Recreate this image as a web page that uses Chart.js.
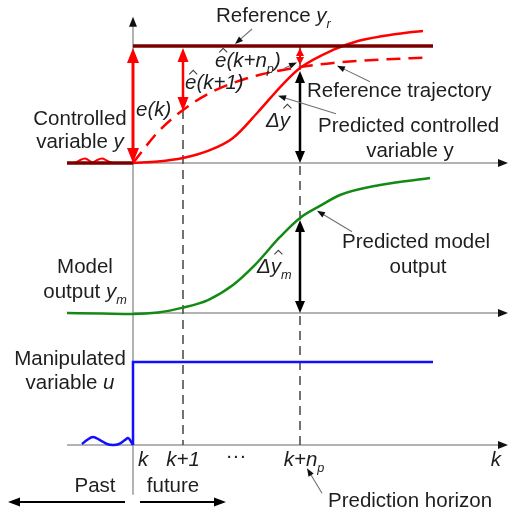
<!DOCTYPE html>
<html><head><meta charset="utf-8">
<script src="https://cdn.jsdelivr.net/npm/chart.js@4.4.0/dist/chart.umd.min.js"></script>
<style>html,body{margin:0;padding:0;background:#fff}canvas{display:block}</style>
</head><body>
<canvas id="c" width="510" height="515"></canvas>
<script>
// ---- time axis (sampling steps, k = 0) ----
const stepT = [0, 1, 3.34];            // k, k+1, k+n_p
const tickLabels = ['k', 'k+1', '···', 'k+n_p', 'k'];
// ---- controlled variable panel (reference = 1) ----
const refT = [0, 6];
const refY = [1, 1];
const pastRefT = [-1.32, 0];
const pastRefY = [0, 0];
const pastYT = [-1.16, -1.06, -0.96, -0.8, -0.72, -0.62, -0.52, -0.42];
const pastYV = [0, 0.025, 0.038, 0.005, 0.025, 0.038, 0.02, 0];
const predT = [0, 0.5, 1, 1.5, 2, 2.5, 3, 3.34, 4, 4.5, 5, 5.5, 5.8];
const predY = [0, 0.013, 0.043, 0.103, 0.214, 0.436, 0.675, 0.812, 0.966, 1.043, 1.085, 1.115, 1.128];
const trajT = [0, 0.5, 1, 1.5, 2, 2.5, 3, 3.34, 4, 5, 5.85];
const trajY = [0, 0.265, 0.453, 0.59, 0.684, 0.75, 0.795, 0.82, 0.855, 0.885, 0.9];
// ---- model output panel ----
const modelT = [-1.32, -0.6, 0, 0.5, 1, 1.5, 2, 2.44, 2.94, 3.34, 3.74, 4.14, 4.94, 5.94];
const modelY = [0, -0.004, -0.007, 0.004, 0.04, 0.096, 0.207, 0.356, 0.563, 0.704, 0.793, 0.874, 0.948, 1.0];
// ---- manipulated variable panel ----
const uPastT = [-1.02, -0.92, -0.8, -0.66, -0.52, -0.4, -0.28, -0.16, -0.1, -0.06, 0];
const uPastY = [0.012, 0.06, 0.096, 0.06, 0.012, 0, 0.012, 0.06, 0.084, 0.06, 0];
const uT = [0, 0, 6];
const uY = [0, 1, 1];

const pts = (T, Y) => T.map((t, i) => ({x: t, y: Y[i]}));
function interp(T, Y, t) {
  for (let i = 0; i < T.length - 1; i++) {
    if (t >= T[i] && t <= T[i + 1]) return Y[i] + (Y[i + 1] - Y[i]) * (t - T[i]) / (T[i + 1] - T[i]);
  }
  return t < T[0] ? Y[0] : Y[Y.length - 1];
}
const DARK = '#7a0000', RED = '#ff0000', GREEN = '#138a13', BLUE = '#1010ff', TXT = '#1e1e1e';
const ds = (data, axis, color, width, extra) => Object.assign({
  type: 'line', data, yAxisID: axis, borderColor: color, borderWidth: width,
  pointRadius: 0, fill: false, tension: 0
}, extra || {});

const FS = 20.5, FF = '"Liberation Sans", Arial, sans-serif';

function head(ctx, x, y, ang, len, wid, color) {
  ctx.save(); ctx.translate(x, y); ctx.rotate(ang);
  ctx.beginPath(); ctx.moveTo(0, 0); ctx.lineTo(-len, wid / 2); ctx.lineTo(-len, -wid / 2); ctx.closePath();
  ctx.fillStyle = color; ctx.fill(); ctx.restore();
}
function seg(ctx, x1, y1, x2, y2, color, w, dash) {
  ctx.save(); ctx.beginPath(); ctx.moveTo(x1, y1); ctx.lineTo(x2, y2);
  ctx.strokeStyle = color; ctx.lineWidth = w; ctx.setLineDash(dash || []); ctx.stroke(); ctx.restore();
}
function vDbl(ctx, x, yTop, yBot, color, w, len, wid) {
  seg(ctx, x, yTop + len * 0.7, x, yBot - len * 0.7, color, w);
  head(ctx, x, yTop, -Math.PI / 2, len, wid, color);
  head(ctx, x, yBot, Math.PI / 2, len, wid, color);
}
function leader(ctx, tx, ty, sx, sy) {
  const ang = Math.atan2(ty - sy, tx - sx);
  seg(ctx, sx, sy, tx - Math.cos(ang) * 5, ty - Math.sin(ang) * 5, '#707070', 1.1);
  head(ctx, tx, ty, ang, 8, 6, '#111');
}
function rich(ctx, x, y, segs, align) {
  const fontOf = s => (s.i ? 'italic ' : '') + (s.sub ? FS * 0.62 : FS) + 'px ' + FF;
  let w = 0;
  segs.forEach(s => { ctx.font = fontOf(s); s.w = ctx.measureText(s.t).width; w += s.w; });
  let cx = align === 'center' ? x - w / 2 : align === 'right' ? x - w : x;
  ctx.fillStyle = TXT; ctx.textBaseline = 'alphabetic'; ctx.textAlign = 'left';
  segs.forEach(s => {
    ctx.font = fontOf(s);
    ctx.fillText(s.t, cx, y + (s.sub ? FS * 0.28 : 0));
    if (s.hat) {
      const hx = cx + s.w / 2 + 2.5, hy = y - FS * 0.52 - (s.hatUp || 4);
      ctx.save(); ctx.beginPath(); ctx.moveTo(hx - 4, hy); ctx.lineTo(hx, hy - 4); ctx.lineTo(hx + 4, hy);
      ctx.strokeStyle = '#444'; ctx.lineWidth = 1.1; ctx.stroke(); ctx.restore();
    }
    cx += s.w;
  });
}

const decor = {
  id: 'decor',
  beforeDatasetsDraw(chart) {
    const ctx = chart.ctx, sx = chart.scales.x;
    const X = t => sx.getPixelForValue(t);
    const Y = (a, v) => chart.scales[a].getPixelForValue(v);
    const G = '#9a9a9a';
    // vertical time-k axis
    seg(ctx, X(0), Y('yTop', 1.25) + 6, X(0), Y('yBot', -0.6), G, 1.5);
    head(ctx, X(0), Y('yTop', 1.25), -Math.PI / 2, 10, 8, '#111');
    // horizontal axes
    seg(ctx, X(0), Y('yTop', 0), X(7.5) - 6, Y('yTop', 0), G, 1.5);
    head(ctx, X(7.5), Y('yTop', 0), 0, 10, 8, '#111');
    seg(ctx, X(0), Y('yMid', 0), X(7.5) - 6, Y('yMid', 0), G, 1.5);
    head(ctx, X(7.5), Y('yMid', 0), 0, 10, 8, '#111');
    seg(ctx, X(-1.32), Y('yBot', 0), X(7.5) - 6, Y('yBot', 0), G, 1.5);
    head(ctx, X(7.5), Y('yBot', 0), 0, 10, 8, '#111');
    // dashed sampling instants
    seg(ctx, X(stepT[1]), Y('yTop', interp(trajT, trajY, stepT[1])), X(stepT[1]), Y('yBot', 0), '#505050', 1.6, [9, 6]);
    seg(ctx, X(stepT[2]), Y('yTop', 1), X(stepT[2]), Y('yBot', 0), '#505050', 1.6, [9, 6]);
  },
  afterDatasetsDraw(chart) {
    const ctx = chart.ctx, sx = chart.scales.x;
    const X = t => sx.getPixelForValue(t);
    const Y = (a, v) => chart.scales[a].getPixelForValue(v);
    const t0 = stepT[0], t1 = stepT[1], tp = stepT[2];
    // error arrows
    vDbl(ctx, X(t0), Y('yTop', 1) + 2, Y('yTop', 0), RED, 3, 15, 12);
    vDbl(ctx, X(t1), Y('yTop', 1) + 2, Y('yTop', interp(trajT, trajY, t1)) + 1, RED, 2.5, 14, 11);
    vDbl(ctx, X(tp), Y('yTop', 1) + 2, Y('yTop', interp(trajT, trajY, tp)) - 2, RED, 2, 8, 8);
    // prediction arrows
    vDbl(ctx, X(tp), Y('yTop', interp(predT, predY, tp)) + 3, Y('yTop', 0), '#000', 2.5, 12, 10);
    vDbl(ctx, X(tp), Y('yMid', interp(modelT, modelY, tp)) + 2, Y('yMid', 0), '#000', 2.5, 12, 10);
    // past / future arrows
    const ya = Y('yBot', -0.687);
    seg(ctx, X(-0.16), ya, X(-2.5) + 8, ya, '#000', 2);
    head(ctx, X(-2.5), ya, Math.PI, 12, 9, '#000');
    seg(ctx, X(0.14), ya, X(1.86) - 8, ya, '#000', 2);
    head(ctx, X(1.86), ya, 0, 12, 9, '#000');
    // leaders
    let tx, ty;
    tx = X(2.04); ty = Y('yTop', 1) - 2; leader(ctx, tx, ty, tx + 17, ty - 15);
    tx = X(tp) - 3; ty = Y('yTop', 0.86); leader(ctx, tx, ty, tx - 13, ty + 6);
    tx = X(4.08); ty = Y('yTop', interp(trajT, trajY, 4.08)) + 3; leader(ctx, tx, ty, tx + 33, ty + 16);
    tx = X(2.88) + 1; ty = Y('yTop', interp(predT, predY, 2.88)) + 5; leader(ctx, tx, ty, tx + 58, ty + 18);
    tx = X(3.68); ty = Y('yMid', interp(modelT, modelY, 3.68)) + 3; leader(ctx, tx, ty, tx + 35, ty + 21);
    tx = X(tp) + 7; ty = Y('yBot', -0.28); leader(ctx, tx, ty, tx + 15, ty + 25);
  },
  afterDraw(chart) {
    const ctx = chart.ctx, sx = chart.scales.x;
    const X = t => sx.getPixelForValue(t);
    const Y = (a, v) => chart.scales[a].getPixelForValue(v);
    const I = (t, o) => Object.assign({t, i: 1}, o || {});
    rich(ctx, 216, 22, [{t: 'Reference '}, I('y'), I('r', {sub: 1})]);
    rich(ctx, 215, 67, [I('e', {hat: 1}), I('(k+n'), I('p', {sub: 1}), I(')')]);
    rich(ctx, 185, 89, [I('e', {hat: 1}), I('(k+1)')]);
    rich(ctx, 136, 116, [I('e(k)')]);
    rich(ctx, 80, 125, [{t: 'Controlled'}], 'center');
    rich(ctx, 80, 148, [{t: 'variable '}, I('y')], 'center');
    rich(ctx, 307, 97, [{t: 'Reference trajectory'}]);
    rich(ctx, 266, 127, [I('Δ'), I('y', {hat: 1, hatUp: 8})]);
    rich(ctx, 318, 132, [{t: 'Predicted controlled'}]);
    rich(ctx, 410, 157, [{t: 'variable y'}], 'center');
    rich(ctx, 85, 273, [{t: 'Model'}], 'center');
    rich(ctx, 85, 298, [{t: 'output '}, I('y'), I('m', {sub: 1})], 'center');
    rich(ctx, 257, 273, [I('Δ'), I('y', {hat: 1, hatUp: 8}), I('m', {sub: 1})]);
    rich(ctx, 342, 248, [{t: 'Predicted model'}]);
    rich(ctx, 418, 273, [{t: 'output'}], 'center');
    rich(ctx, 70, 365, [{t: 'Manipulated'}], 'center');
    rich(ctx, 70, 389, [{t: 'variable '}, I('u')], 'center');
    // time ticks
    const yb = Y('yBot', -0.253);
    rich(ctx, X(stepT[0]) + 5, yb, [I(tickLabels[0])]);
    rich(ctx, X(stepT[1]), yb, [I(tickLabels[1])], 'center');
    rich(ctx, X(2.06), yb - 4, [{t: tickLabels[2]}], 'center');
    rich(ctx, X(stepT[2]) + 4, yb, [I('k+n'), I('p', {sub: 1})], 'center');
    rich(ctx, X(7.36), yb, [I(tickLabels[4])], 'right');
    rich(ctx, 95, 492, [{t: 'Past'}], 'center');
    rich(ctx, 173, 492, [{t: 'future'}], 'center');
    rich(ctx, 328, 507, [{t: 'Prediction horizon'}]);
  }
};

new Chart(document.getElementById('c'), {
  data: {
    datasets: [
      ds(pts(pastRefT, pastRefY), 'yTop', DARK, 3.5),
      ds(pts(pastYT, pastYV), 'yTop', RED, 2, {cubicInterpolationMode: 'monotone'}),
      ds(pts(refT, refY), 'yTop', DARK, 3.5),
      ds(pts(trajT, trajY), 'yTop', RED, 2.5, {cubicInterpolationMode: 'monotone', borderDash: [14, 8]}),
      ds(pts(predT, predY), 'yTop', RED, 2.5, {cubicInterpolationMode: 'monotone'}),
      ds(pts(modelT, modelY), 'yMid', GREEN, 2.5, {cubicInterpolationMode: 'monotone'}),
      ds(pts(uPastT, uPastY), 'yBot', BLUE, 2.5, {cubicInterpolationMode: 'monotone'}),
      ds(pts(uT, uY), 'yBot', BLUE, 2.5)
    ]
  },
  options: {
    responsive: false, animation: false, events: [],
    layout: {padding: 0},
    plugins: {legend: {display: false}, tooltip: {enabled: false}, title: {display: false}},
    scales: {
      x: {type: 'linear', min: -2.66, max: 7.54, display: false},
      yTop: {type: 'linear', min: -3.0085, max: 1.3932, display: false},
      yMid: {type: 'linear', min: -1.4963, max: 2.3185, display: false},
      yBot: {type: 'linear', min: -0.8434, max: 5.3614, display: false}
    }
  },
  plugins: [decor]
});
</script>
</body></html>
